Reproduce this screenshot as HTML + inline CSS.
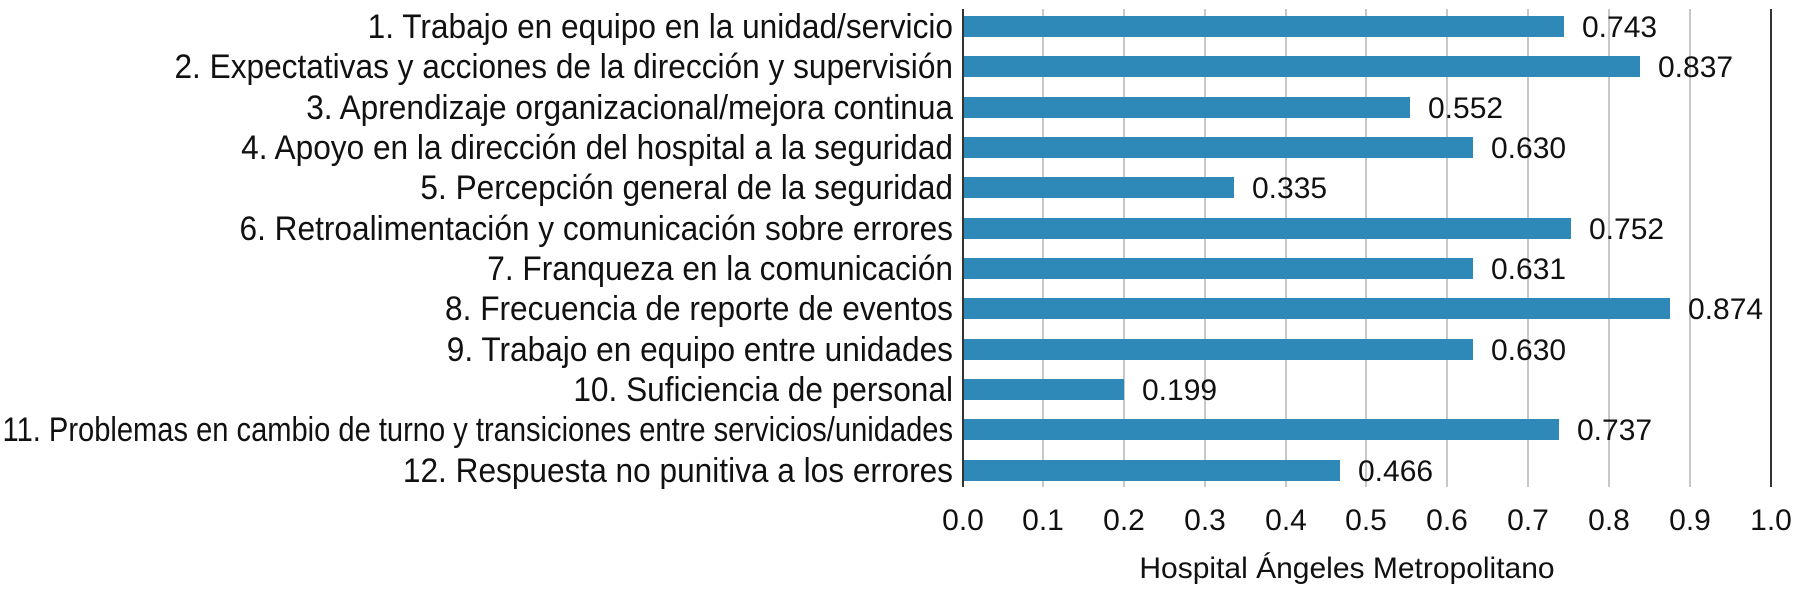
<!DOCTYPE html>
<html><head><meta charset="utf-8"><style>body{margin:0;background:#fff}svg{display:block}</style></head>
<body>
<svg width="1800" height="595" xmlns="http://www.w3.org/2000/svg" font-family="Liberation Sans, Arial, sans-serif" font-size="30" fill="#111">
<g stroke="#c8c8c8" stroke-width="2">
<line x1="1043" y1="9" x2="1043" y2="487"/><line x1="1124" y1="9" x2="1124" y2="487"/>
<line x1="1205" y1="9" x2="1205" y2="487"/><line x1="1286" y1="9" x2="1286" y2="487"/>
<line x1="1366" y1="9" x2="1366" y2="487"/><line x1="1447" y1="9" x2="1447" y2="487"/>
<line x1="1528" y1="9" x2="1528" y2="487"/><line x1="1609" y1="9" x2="1609" y2="487"/>
<line x1="1690" y1="9" x2="1690" y2="487"/>
</g>
<line x1="1771" y1="9" x2="1771" y2="487" stroke="#333" stroke-width="2"/>
<g fill="#2e89b8">
<rect x="963" y="16" width="601" height="21"/>
<rect x="963" y="56" width="677" height="21"/>
<rect x="963" y="97" width="447" height="21"/>
<rect x="963" y="137" width="510" height="21"/>
<rect x="963" y="177" width="271" height="21"/>
<rect x="963" y="218" width="608" height="21"/>
<rect x="963" y="258" width="510" height="21"/>
<rect x="963" y="298" width="707" height="21"/>
<rect x="963" y="339" width="510" height="21"/>
<rect x="963" y="379" width="161" height="21"/>
<rect x="963" y="419" width="596" height="21"/>
<rect x="963" y="460" width="377" height="21"/>
</g>
<line x1="963" y1="9" x2="963" y2="487" stroke="#333" stroke-width="2"/>
<g>
<text x="1582" y="37">0.743</text><text x="1658" y="77">0.837</text>
<text x="1428" y="118">0.552</text><text x="1491" y="158">0.630</text>
<text x="1252" y="198">0.335</text><text x="1589" y="239">0.752</text>
<text x="1491" y="279">0.631</text><text x="1688" y="319">0.874</text>
<text x="1491" y="360">0.630</text><text x="1142" y="400">0.199</text>
<text x="1577" y="440">0.737</text><text x="1358" y="481">0.466</text>
</g>
<g text-anchor="end" font-size="34" transform="translate(953,0) scale(0.93,1)">
<text x="0" y="38">1. Trabajo en equipo en la unidad/servicio</text>
<text x="0" y="78">2. Expectativas y acciones de la dirección y supervisión</text>
<text x="0" y="119">3. Aprendizaje organizacional/mejora continua</text>
<text x="0" y="159">4. Apoyo en la dirección del hospital a la seguridad</text>
<text x="0" y="199">5. Percepción general de la seguridad</text>
<text x="0" y="240">6. Retroalimentación y comunicación sobre errores</text>
<text x="0" y="280">7. Franqueza en la comunicación</text>
<text x="0" y="320">8. Frecuencia de reporte de eventos</text>
<text x="0" y="361">9. Trabajo en equipo entre unidades</text>
<text x="0" y="401">10. Suficiencia de personal</text>
<text x="0" y="441" textLength="1022" lengthAdjust="spacingAndGlyphs">11. Problemas en cambio de turno y transiciones entre servicios/unidades</text>
<text x="0" y="482">12. Respuesta no punitiva a los errores</text>
</g>
<g text-anchor="middle">
<text x="963" y="530">0.0</text><text x="1043" y="530">0.1</text><text x="1124" y="530">0.2</text>
<text x="1205" y="530">0.3</text><text x="1286" y="530">0.4</text><text x="1366" y="530">0.5</text>
<text x="1447" y="530">0.6</text><text x="1528" y="530">0.7</text><text x="1609" y="530">0.8</text>
<text x="1690" y="530">0.9</text><text x="1771" y="530">1.0</text>
<text x="1347" y="578">Hospital Ángeles Metropolitano</text>
</g>
</svg>
</body></html>
